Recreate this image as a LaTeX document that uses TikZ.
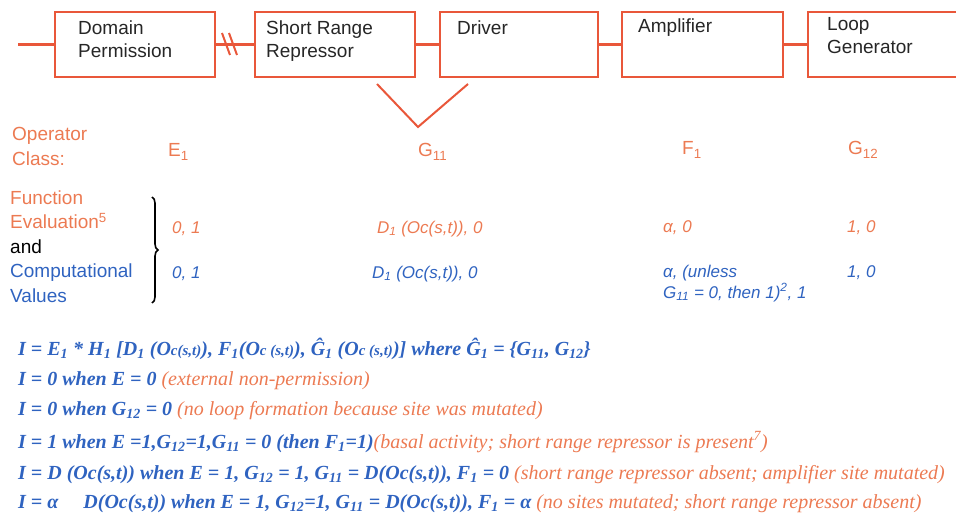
\documentclass[tikz,border=0pt]{standalone}
\usepackage{fontspec}
\setmainfont{Liberation Serif}
\newfontfamily\gsans{Liberation Sans}
\usepackage{tikz}
\usetikzlibrary{decorations.pathreplacing, calc}
\definecolor{boxred}{HTML}{E9573A}
\definecolor{oporange}{HTML}{EC7A52}
\definecolor{compblue}{HTML}{2F63C0}
\colorlet{boxtext}{black!85}
% block: name, x centre, width, baseline of last text line, text
\newcommand{\gblock}[5]{%
  \node[gbox, minimum width=#3] (#1) at (#2,44.5) {};
  \node[gtext] (#1txt) at (#4) {#5};%
}
\newcommand{\sub}[1]{\textsubscript{#1}}
\newcommand{\sps}[1]{\textsuperscript{#1}}
\newcommand{\explain}[1]{\textcolor{oporange}{\mdseries #1}}
\newcommand{\smallc}[1]{{\fontsize{15}{18}\selectfont #1}}
\tikzset{
  gbox/.style={draw=boxred, line width=2.8pt, minimum height=65pt, inner sep=0pt},
  gtext/.style={anchor=base west, align=left, inner sep=0pt, text=boxtext,
    font=\gsans\fontsize{19}{23}\selectfont},
  link/.style={draw=boxred, line width=2.8pt},
  opclass/.style={anchor=base west, inner sep=0pt, text=oporange,
    font=\gsans\fontsize{19}{24.5}\selectfont},
  fval/.style={anchor=base west, inner sep=0pt, text=oporange,
    font=\gsans\itshape\fontsize{17}{21}\selectfont},
  cval/.style={fval, text=compblue, align=left},
  eqline/.style={anchor=base west, inner sep=0pt, text=compblue,
    font=\bfseries\itshape\fontsize{20}{24}\selectfont},
}

\begin{document}
\begin{tikzpicture}[x=1pt, y=-1pt]
  \useasboundingbox (0,0) rectangle (956,516);

  % Gene blocks
  \gblock{dom}{135}{160}{78,58}{Domain\\Permission}
  \gblock{srr}{335}{160}{266,58}{Short Range\\Repressor}
  \gblock{drv}{519}{158}{457,35}{Driver}
  \gblock{amp}{702.5}{161}{638,33}{Amplifier}
  \gblock{loop}{887}{158}{827,54}{Loop\\Generator}

  % Links (break between the first two)
  \coordinate (lead) at (18,44.5);
  \draw[link] (lead) -- (dom);
  \draw[link] (dom) -- (srr);
  \draw[link, line width=2pt] (222,33) -- (230,55);
  \draw[link, line width=2pt] (229,33) -- (237,55);
  \draw[link] (srr) -- (drv);
  \draw[link] (drv) -- (amp);
  \draw[link] (amp) -- (loop);
  \draw[boxred, line width=2pt] (377,84) -- (418,127) -- (468,84);

  % Operator classes
  \node[opclass, align=left] (opcls) at (12,165) {Operator\\Class:};
  \node[opclass] (e1) at (168,157) {E\sub{1}};
  \node[opclass] (g11) at (418,157) {G\sub{11}};
  \node[opclass] (f1) at (682,155) {F\sub{1}};
  \node[opclass] (g12) at (848,155) {G\sub{12}};

  % Function evaluation and computational values
  \node[opclass, align=left] (fev) at (10,302)
    {Function\\Evaluation\sps{5}\\\textcolor{black}{and}\\
     \textcolor{compblue}{Computational}\\\textcolor{compblue}{Values}};
  \coordinate (bt) at (152,197);
  \coordinate (bb) at (152,303);
  \draw[decorate, decoration={brace, amplitude=6pt}, line width=1.6pt] (bt) -- (bb);

  \node[fval] (fe1) at (172,233) {0, 1};
  \node[fval] (fg11) at (377,233) {D\sub{1} (Oc(s,t)), 0};
  \node[fval] (ff1) at (663,232) {α, 0};
  \node[fval] (fg12) at (847,232) {1, 0};
  \node[cval] (ce1) at (172,278) {0, 1};
  \node[cval] (cg11) at (372,278) {D\sub{1} (Oc(s,t)), 0};
  \node[cval] (cf1) at (663,298) {α, (unless\\G\sub{11} = 0, then 1)\sps{2}, 1};
  \node[cval] (cg12) at (847,277) {1, 0};

  % Output rules
  \node[eqline] (eq1) at (18,355) {I = E\sub{1} * H\sub{1} [D\sub{1} (O\smallc{c(s,t)}), F\sub{1}(O\smallc{c (s,t)}), \^{G}\sub{1} (O\smallc{c (s,t)})] where \^{G}\sub{1} = \{G\sub{11}, G\sub{12}\}};
  \node[eqline] (eq2) at (18,385) {I = 0 when E = 0 \explain{(external non-permission)}};
  \node[eqline] (eq3) at (18,415) {I = 0 when G\sub{12} = 0 \explain{(no loop formation because site was mutated)}};
  \node[eqline] (eq4) at (18,448) {I = 1 when E =1,G\sub{12}=1,G\sub{11} = 0 (then F\sub{1}=1)\explain{(basal activity; short range repressor is present\sps{7})}};
  \node[eqline] (eq5) at (18,479) {I = D (Oc(s,t)) when E = 1, G\sub{12} = 1, G\sub{11} = D(Oc(s,t)), F\sub{1} = 0 \explain{(short range repressor absent; amplifier site mutated)}};
  \node[eqline] (eq6) at (18,508) {I = α \quad D(Oc(s,t)) when E = 1, G\sub{12}=1, G\sub{11} = D(Oc(s,t)), F\sub{1} = α \explain{(no sites mutated; short range repressor absent)}};
\end{tikzpicture}
\end{document}
